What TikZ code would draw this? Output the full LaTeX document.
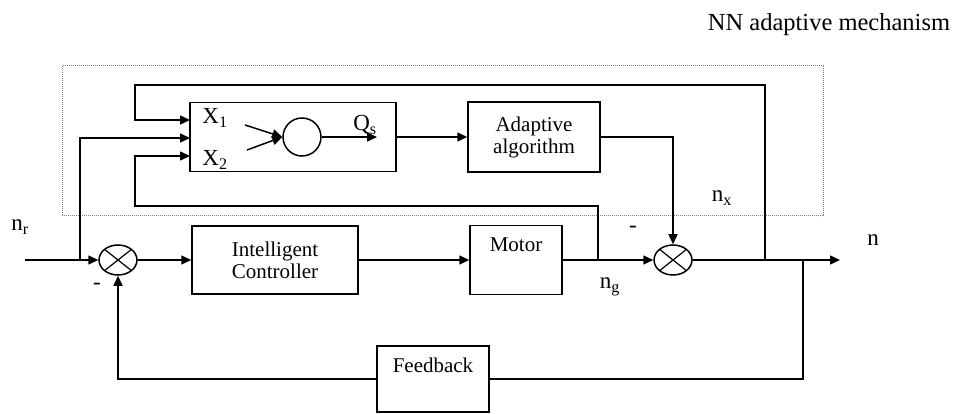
\documentclass[tikz,border=0pt]{standalone}
\usepackage{fontspec}
\setmainfont{Liberation Serif}
\usetikzlibrary{arrows.meta,shapes.geometric}
\tikzset{
  blk/.style = {draw, rectangle, inner sep=0pt, align=center,
    font=\fontsize{21}{22}\selectfont},
  sumpt/.style = {draw, ellipse, inner sep=0pt, minimum width=38pt,
    minimum height=30pt, path picture={
      \draw[line width=1.2pt] (path picture bounding box.north west) -- (path picture bounding box.south east)
        (path picture bounding box.north east) -- (path picture bounding box.south west);}},
  neuron/.style = {draw, circle, inner sep=0pt, minimum size=38pt},
  sig/.style = {inner sep=0pt, font=\fontsize{23}{25}\selectfont},
  inlbl/.style = {inner sep=0pt, anchor=north, font=\fontsize{21}{22}\selectfont}
}

\begin{document}
\begin{tikzpicture}[x=1pt,y=-1pt,line width=1.5pt,>={Triangle[length=10pt,width=9pt]}]
	\useasboundingbox (0,0) rectangle (953,414);

	% frame of the adaptive part
	\draw[gray, densely dotted, line width=1pt] (62,66) rectangle (823,216);
	\node[sig, font=\fontsize{24.5}{26}\selectfont] (title) at (829,25) {NN adaptive mechanism};

	% blocks
	\node[blk, minimum width=206pt, minimum height=69pt] (nn) at (293,137) {};
	\node[blk, minimum width=132pt, minimum height=70pt] (adapt) at (534,137) {Adaptive\\algorithm};
	\node[blk, minimum width=166pt, minimum height=68pt] (ctrl) at (275,260) {Intelligent\\Controller};
	\node[blk, minimum width=92pt, minimum height=69pt,
		label={[inlbl, yshift=-12pt]north:Motor}] (motor) at (516,260) {};
	\node[blk, minimum width=112pt, minimum height=66pt,
		label={[inlbl, yshift=-12pt]north:Feedback}] (fb) at (433,379) {};
	\node[sumpt] (s1) at (118,260) {};
	\node[sumpt] (s2) at (673,260) {};
	\node[neuron] (cell) at (302,137) {};

	% free ends and corners
	\coordinate (nr) at (25,260);
	\coordinate (out) at (840,260);
	\coordinate (fork) at (80,260);
	\coordinate (tap1) at (598,260);
	\coordinate (tap2) at (765,260);
	\coordinate (tap3) at (803,260);
	\coordinate (c1) at (135,85);
	\coordinate (c2) at (135,206);
	\coordinate (in1) at (190,120);
	\coordinate (in0) at (190,138);
	\coordinate (in2) at (190,156);
	\coordinate (w1) at (245,125);
	\coordinate (w2) at (247,150);
	\coordinate (qs) at (377,137);

	% main loop
	\draw[->] (nr) -- (s1.west);
	\draw[->] (s1.east) -- (ctrl.west);
	\draw[->] (ctrl.east) -- (motor.west);
	\draw[->] (motor.east) -- (s2.west);
	\draw[->] (s2.east) -- (out);
	\draw (tap3) |- (fb.east);
	\draw[->] (fb.west) -| (s1.south);

	% adaptive part
	\draw[->] (fork) |- (in0);
	\draw[->] (tap2) |- (c1) |- (in1);
	\draw[->] (tap1) |- (c2) |- (in2);
	\draw[->] (nn.east) -- (adapt.west);
	\draw[->] (adapt.east) -| (s2.north);
	\draw[->] (w1) -- (cell.west);
	\draw[->] (w2) -- (cell.west);
	\draw[->] (cell.east) -- (qs);

	% labels
	\node[sig] (lx1) at (215,118) {X\textsubscript{1}};
	\node[sig] (lx2) at (215,160) {X\textsubscript{2}};
	\node[sig] (lqs) at (365,125) {Q\textsubscript{s}};
	\node[sig] (lnr) at (20,227) {n\textsubscript{r}};
	\node[sig] (lng) at (610,287) {n\textsubscript{g}};
	\node[sig] (lnx) at (722,198) {n\textsubscript{x}};
	\node[sig] (ln) at (873,240) {n};
	\node[sig] (m1) at (97,286) {-};
	\node[sig] (m2) at (633,229) {-};

\end{tikzpicture}
\end{document}
